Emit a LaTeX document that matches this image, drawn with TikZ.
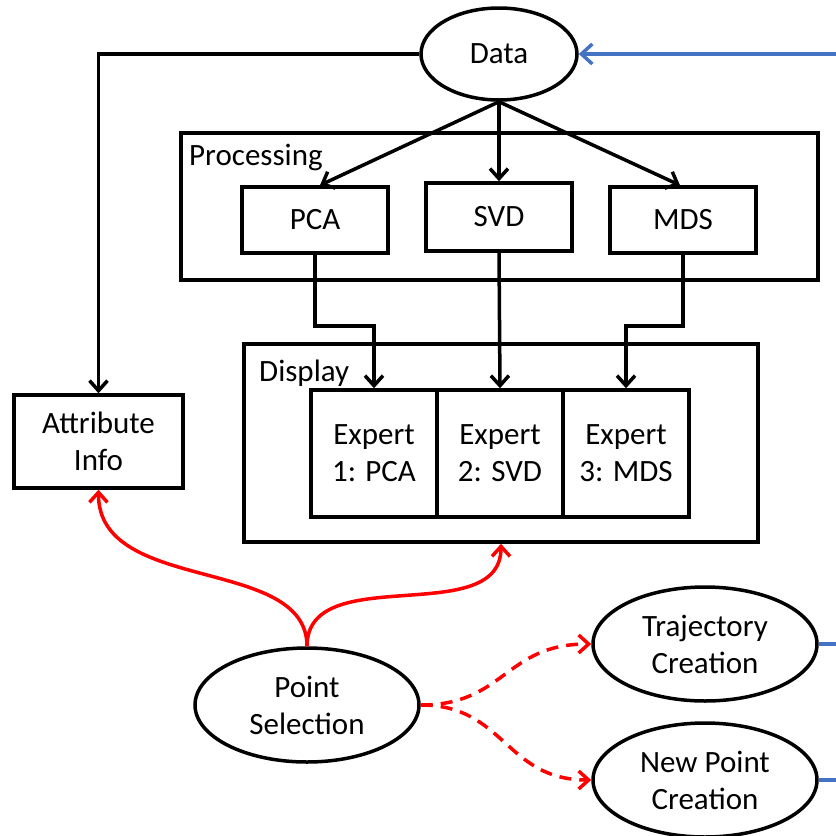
\documentclass[tikz,border=0pt]{standalone}
\usepackage{fontspec}
\setmainfont{Carlito}
\usetikzlibrary{arrows.meta,shapes.geometric,calc}
\definecolor{linkblue}{RGB}{68,114,196}
\definecolor{linkred}{RGB}{255,0,0}
\begin{document}
\begin{tikzpicture}[x=1pt,y=-1pt,
  every node/.style={font=\fontsize{31}{37}\selectfont, text=black},
  box/.style={draw, line width=3.5pt, rectangle, inner sep=0pt, align=center},
  oval/.style={draw, line width=3.5pt, ellipse, inner sep=0pt, align=center},
  tag/.style={anchor=base west, inner sep=0pt},
  blk/.style={line width=3.5pt, -{Straight Barb[length=10pt,width=18pt]}},
  redarrow/.style={line width=3.5pt, draw=linkred, -{Straight Barb[length=10pt,width=18pt]}},
  reddash/.style={line width=3.5pt, draw=linkred, dash pattern=on 12pt off 8pt, -{Straight Barb[length=10pt,width=18pt]}},
  bluearrow/.style={line width=3.5pt, draw=linkblue, -{Straight Barb[length=11pt,width=20pt]}},
  blueline/.style={line width=3.5pt, draw=linkblue}
]
\useasboundingbox (0,0) rectangle (836,836);

% frames
\node[box, minimum width=637pt, minimum height=147pt] (proc) at (499.5,206.5) {};
\node[tag] (proclabel) at (189,165) {Processing};
\node[box, minimum width=514pt, minimum height=198pt] (disp) at (501,443) {};
\node[tag] (displabel) at (259,381) {Display};

% nodes
\node[oval, minimum width=156pt, minimum height=92pt] (data) at (499,54) {Data};
\node[box, minimum width=146pt, minimum height=66pt] (pca) at (315,220) {PCA};
\node[box, minimum width=146pt, minimum height=68pt] (svd) at (499,217) {SVD};
\node[box, minimum width=146pt, minimum height=66pt] (mds) at (683,220) {MDS};
\node[box, minimum width=126pt, minimum height=127pt] (e1) at (374,453.5) {Expert\\1: PCA};
\node[box, minimum width=126pt, minimum height=127pt] (e2) at (500,453.5) {Expert\\2: SVD};
\node[box, minimum width=126pt, minimum height=127pt] (e3) at (626,453.5) {Expert\\3: MDS};
\node[box, minimum width=169pt, minimum height=93pt] (attr) at (98.5,441.5) {Attribute\\Info};
\node[oval, minimum width=224pt, minimum height=114pt] (ps) at (307,705) {Point\\Selection};
\node[oval, minimum width=224pt, minimum height=114pt] (traj) at (705,644) {Trajectory\\Creation};
\node[oval, minimum width=224pt, minimum height=114pt] (newp) at (705,780) {New Point\\Creation};

% coordinates at the right edge
\coordinate (bin) at (836,54);
\coordinate (tout) at (836,644);
\coordinate (nout) at (836,780);

% black connectors
\draw[blk] (data.west) -| (attr.north);
\draw[blk] (data.south) -- ([xshift=5pt]pca.north);
\draw[blk] (data.south) -- (svd.north);
\draw[blk] (data.south) -- ([xshift=-3pt]mds.north);
\draw[blk] (pca.south) -- ++(0,71) -| (e1.north);
\draw[blk] (svd.south) -- (e2.north);
\draw[blk] (mds.south) -- ++(0,71) -| (e3.north);

% blue connectors
\draw[bluearrow] (bin) -- (data.east);
\draw[blueline] (traj.east) -- (tout);
\draw[blueline] (newp.east) -- (nout);

% red connectors
\draw[redarrow] (ps.north) .. controls (307,555) and (98,595) .. (attr.south);
\draw[redarrow] (ps.north) .. controls (307,560) and (501,630) .. (disp.south);
\draw[reddash] (ps.east) .. controls (505,705) and (505,644) .. (traj.west);
\draw[reddash] (ps.east) .. controls (505,705) and (505,780) .. (newp.west);
\end{tikzpicture}
\end{document}
